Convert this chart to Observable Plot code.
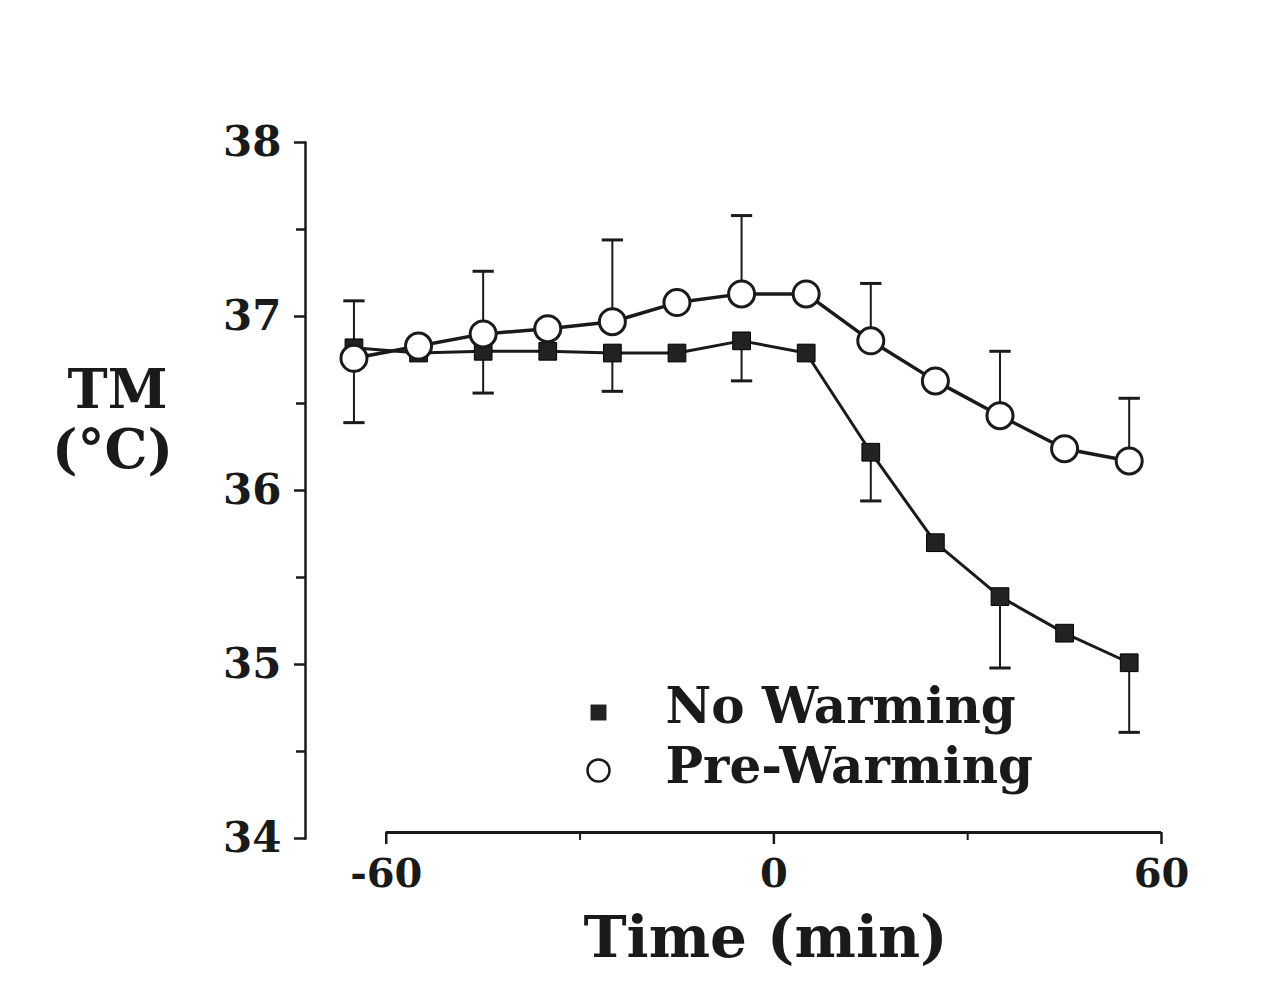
<!DOCTYPE html>
<html>
<head>
<meta charset="utf-8">
<script src="https://cdn.jsdelivr.net/npm/d3@7"></script>
<script src="https://cdn.jsdelivr.net/npm/@observablehq/plot@0.6"></script>
<style>
  html, body { margin: 0; padding: 0; background: #fff; }
  #chart svg { display: block; }
</style>
</head>
<body>
<div id="chart"></div>
<script>
// Time points (min)
const time = [-65, -55, -45, -35, -25, -15, -5, 5, 15, 25, 35, 45, 55];
// Mean TM (°C)
const noWarming  = [36.82, 36.79, 36.80, 36.80, 36.79, 36.79, 36.86, 36.79, 36.22, 35.70, 35.39, 35.18, 35.01];
const preWarming = [36.76, 36.83, 36.90, 36.93, 36.97, 37.08, 37.13, 37.13, 36.86, 36.63, 36.43, 36.24, 36.17];
// Error-bar ends (one-sided SD bars), null where no bar is drawn
const noWarmingErr  = [37.09, null, 36.56, null, 36.57, null, 36.63, null, 35.94, null, 34.98, null, 34.61];
const preWarmingErr = [36.39, null, 37.26, null, 37.44, null, 37.58, null, 37.19, null, 36.80, null, 36.53];
// Axis ticks
const yTicks = [34, 35, 36, 37, 38];
const yMinorTicks = [34.5, 35.5, 36.5, 37.5];
const xTicks = [-60, 0, 60];
const xMinorTicks = [-30, 30];
const seriesNames = ["No Warming", "Pre-Warming"];

const nw = time.map((t, i) => ({t, v: noWarming[i], e: noWarmingErr[i]}));
const pw = time.map((t, i) => ({t, v: preWarming[i], e: preWarmingErr[i]}));
const nwErr = nw.filter(d => d.e != null);
const pwErr = pw.filter(d => d.e != null);

const cap = {draw(ctx, size) { const w = Math.sqrt(size) / 2; ctx.moveTo(-w, 0); ctx.lineTo(w, 0); }};

const font = "'DejaVu Serif', 'Liberation Serif', serif";
const ink = "#1a1a1a";

const plot = Plot.plot({
  width: 1288,
  height: 982,
  marginTop: 142,
  marginBottom: 144,
  marginLeft: 305,
  marginRight: 127,
  style: {fontFamily: font, color: ink, background: "#fff", overflow: "visible"},
  x: {domain: [-72.5, 60]},
  y: {domain: [34, 38]},
  marks: [
    Plot.frame({anchor: "left", stroke: ink, strokeWidth: 2.5}),
    Plot.axisY({ticks: yTicks, tickFormat: d => String(d), tickSize: 11, tickPadding: 13, fontSize: 42, fontWeight: "bold", label: null, strokeWidth: 2.5}),
    Plot.axisY({ticks: yMinorTicks, tickSize: 9, tickFormat: () => "", label: null, strokeWidth: 2.5}),
    Plot.ruleY([yTicks[0]], {x1: xTicks[0], x2: xTicks[xTicks.length - 1], stroke: ink, strokeWidth: 3, dy: -6}),
    Plot.axisX({ticks: xTicks, tickFormat: d => String(d), tickSize: 12, tickPadding: 14, fontSize: 40, fontWeight: "bold", label: null, strokeWidth: 2.5, dy: -6}),
    Plot.axisX({ticks: xMinorTicks, tickSize: 8, tickFormat: () => "", label: null, strokeWidth: 2, dy: -6}),
    // error bars
    Plot.ruleX(nwErr, {x: "t", y1: "v", y2: "e", stroke: ink, strokeWidth: 2}),
    Plot.dot(nwErr, {x: "t", y: "e", symbol: cap, r: 12, stroke: ink, strokeWidth: 3}),
    Plot.ruleX(pwErr, {x: "t", y1: "v", y2: "e", stroke: ink, strokeWidth: 2}),
    Plot.dot(pwErr, {x: "t", y: "e", symbol: cap, r: 12, stroke: ink, strokeWidth: 3}),
    // lines
    Plot.line(nw, {x: "t", y: "v", stroke: ink, strokeWidth: 3}),
    Plot.line(pw, {x: "t", y: "v", stroke: ink, strokeWidth: 3.5}),
    // markers
    Plot.dot(nw, {x: "t", y: "v", symbol: "square", r: 10, fill: "#222", stroke: "#000", strokeWidth: 1}),
    Plot.dot(pw, {x: "t", y: "v", symbol: "circle", r: 13, fill: "#fff", stroke: ink, strokeWidth: 3}),
    // legend
    Plot.dot([seriesNames[0]], {frameAnchor: "bottom-left", dx: 293, dy: -126, symbol: "square", r: 9, fill: "#222"}),
    Plot.text([seriesNames[0]], {frameAnchor: "bottom-left", dx: 360, dy: -116, text: d => d, textAnchor: "start", fontSize: 50, fontWeight: "bold", fill: ink, style: "letter-spacing:6px"}),
    Plot.dot([seriesNames[1]], {frameAnchor: "bottom-left", dx: 293, dy: -68, symbol: "circle", r: 11, fill: "#fff", stroke: ink, strokeWidth: 2.5}),
    Plot.text([seriesNames[1]], {frameAnchor: "bottom-left", dx: 360, dy: -56, text: d => d, textAnchor: "start", fontSize: 50, fontWeight: "bold", fill: ink, style: "letter-spacing:6px"}),
    // axis titles
    Plot.text(["TM"], {frameAnchor: "left", dx: -188, dy: -100, text: d => d, textAnchor: "middle", fontSize: 54, fontWeight: "bold", fill: ink, style: "letter-spacing:8px"}),
    Plot.text(["(°C)"], {frameAnchor: "left", dx: -193, dy: -40, text: d => d, textAnchor: "middle", fontSize: 54, fontWeight: "bold", fill: ink, style: "letter-spacing:4px"}),
    Plot.text(["Time (min)"], {frameAnchor: "bottom", dx: 32, dy: 118, text: d => d, textAnchor: "middle", fontSize: 58, fontWeight: "bold", fill: ink, style: "letter-spacing:6px"})
  ]
});
document.getElementById("chart").appendChild(plot);
</script>
</body>
</html>
